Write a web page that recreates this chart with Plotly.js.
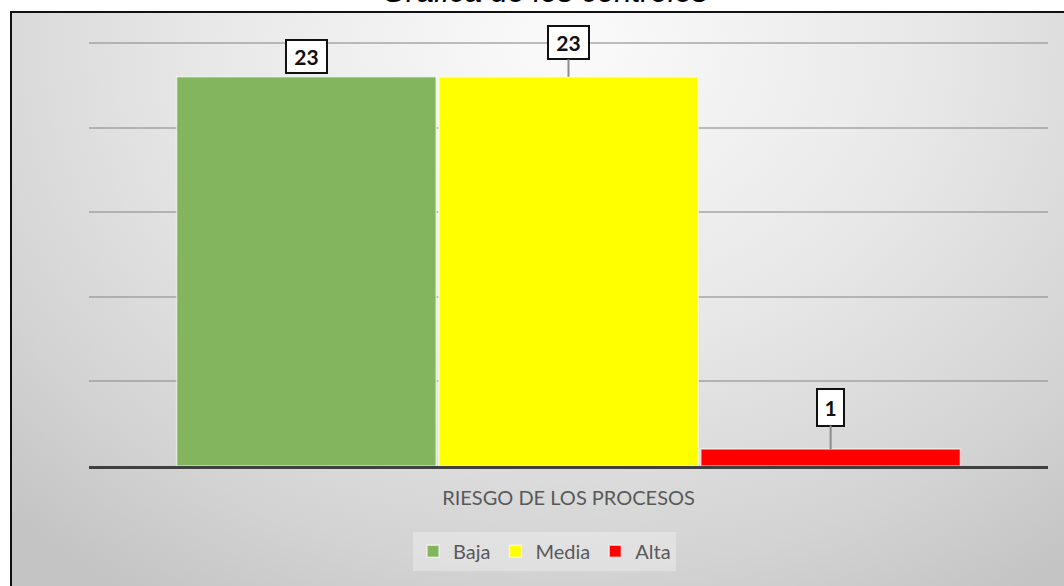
<!DOCTYPE html>
<html>
<head>
<meta charset="utf-8">
<script src="https://cdn.plot.ly/plotly-3.0.1.min.js"></script>
<style>
  html, body { margin:0; padding:0; width:1064px; height:586px; overflow:hidden; background:#ffffff; }
  #frame { position:absolute; left:10px; top:11px; width:1070px; height:600px;
    border-left:2px solid #111; border-top:2px solid #111; box-sizing:border-box;
    background: radial-gradient(ellipse 75% 110% at 52% 5%, #fbfbfb 0%, #e8e8e8 45%, #d3d3d3 80%, #c4c4c4 100%); }
  #chart { position:absolute; left:0; top:0; width:1064px; height:586px; }
</style>
</head>
<body>
<div id="frame"></div>
<div id="chart"></div>
<script>
const category = ['RIESGO DE LOS PROCESOS'];
const seriesNames = ['Baja', 'Media', 'Alta'];
const seriesValues = [23, 23, 1];
const seriesColors = ['#82b55e', '#ffff00', '#ff0000'];
const titleText = 'Gráfica de los controles';

const traces = seriesNames.map((n, i) => ({
  type: 'bar', name: n, x: category, y: [seriesValues[i]],
  marker: { color: seriesColors[i], line: { color: 'rgba(255,255,255,0.6)', width: 1.5 } },
  hoverinfo: 'none'
}));

const barW = 0.82 / 3;
const offsets = [-barW, 0, barW];
const labelAy = [-20, -34, -42];
const boxW = [39, 39, 25];
const boxH = [31, 31, 35];
const annotations = seriesValues.map((v, i) => ({
  xref: 'x', yref: 'y', x: offsets[i], y: v,
  text: '<b>' + v + '</b>', showarrow: i !== 0,
  arrowhead: 0, arrowcolor: '#8c8c8c', arrowwidth: 2,
  ax: 0, ay: labelAy[i],
  yanchor: i === 0 ? 'bottom' : 'middle', yshift: i === 0 ? 3 : 0,
  width: boxW[i], height: boxH[i], borderpad: 0,
  font: { family: 'Lato, sans-serif', size: 21, color: '#111' },
  bgcolor: '#ffffff', bordercolor: '#111', borderwidth: 2
}));
annotations.push({
  xref: 'paper', yref: 'paper', x: 0.476, y: 1, yshift: 31, xanchor: 'center', yanchor: 'bottom',
  text: '<i>' + titleText + '</i>', showarrow: false,
  font: { family: 'Liberation Sans, Arial, sans-serif', size: 31, color: '#000' }
});

const layout = {
  width: 1064, height: 586,
  paper_bgcolor: 'rgba(0,0,0,0)', plot_bgcolor: 'rgba(0,0,0,0)',
  margin: { l: 89, r: 16, t: 42, b: 120 },
  barmode: 'group', bargap: 0.18, bargroupgap: 0.01,
  showlegend: true,
  legend: { orientation: 'h', x: 0.475, xanchor: 'center', y: -0.155, yanchor: 'top',
    bgcolor: 'rgba(255,255,255,0.3)', font: { family: 'Lato, sans-serif', size: 20, color: '#595959' },
    itemwidth: 30, traceorder: 'normal' },
  xaxis: { type: 'category', showline: true, linecolor: '#404040', linewidth: 3,
    ticks: '', tickfont: { family: 'Lato, sans-serif', size: 20, color: '#595959' },
    ticklabelstandoff: 12, fixedrange: true },
  yaxis: { range: [0, 25.06], tickvals: [5, 10, 15, 20, 25], showticklabels: false, showgrid: true,
    gridcolor: 'rgba(140,140,140,0.55)', gridwidth: 2, zeroline: false, fixedrange: true },
  annotations: annotations
};

Plotly.newPlot('chart', traces, layout, { displayModeBar: false, staticPlot: true });
</script>
</body>
</html>
